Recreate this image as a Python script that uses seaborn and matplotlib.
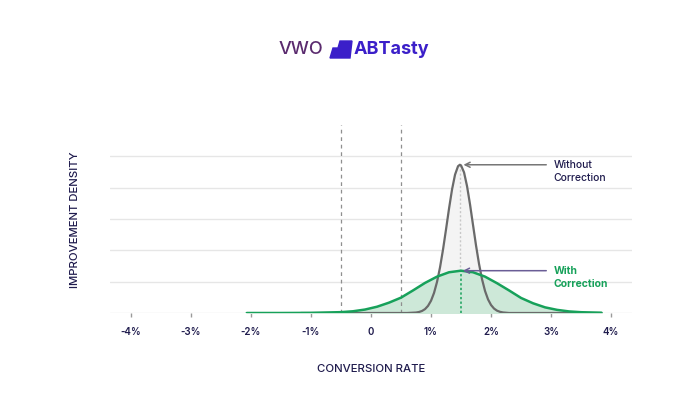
import numpy as np
import matplotlib.pyplot as plt
import matplotlib.patches as mpatches
import seaborn as sns

# data (x in %, y in gridline units)
without_x = [-1.17, 0.6, 0.75, 0.8, 0.85, 0.9, 0.95, 1.0, 1.05, 1.1, 1.15, 1.2, 1.25, 1.3, 1.35,
             1.4, 1.45, 1.48, 1.5, 1.55, 1.6, 1.65, 1.7, 1.75, 1.8, 1.85, 1.9, 1.95, 2.0, 2.05,
             2.1, 2.15, 2.2, 2.3, 3.84]
without_y = [0.0, 0.0, 0.015, 0.032, 0.065, 0.124, 0.227, 0.391, 0.64, 0.992, 1.456, 2.026, 2.669,
             3.332, 3.94, 4.414, 4.684, 4.73, 4.71, 4.486, 4.047, 3.461, 2.803, 2.15, 1.563, 1.076,
             0.702, 0.434, 0.254, 0.141, 0.074, 0.037, 0.017, 0.0, 0.0]

with_x = [-2.07, -1.5, -1.0, -0.5, -0.3, -0.1, 0.1, 0.3, 0.5, 0.7, 0.9, 1.1, 1.3, 1.5, 1.7,
          1.9, 2.1, 2.3, 2.5, 2.7, 2.9, 3.1, 3.3, 3.5, 3.84]
with_y = [0.0, 0.0, 0.004, 0.027, 0.055, 0.11, 0.2, 0.33, 0.49, 0.72, 0.96, 1.16, 1.3, 1.35, 1.3,
          1.16, 0.95, 0.72, 0.48, 0.31, 0.18, 0.10, 0.05, 0.025, 0.008]

bounds = [-0.5, 0.5]
xticks = [-4, -3, -2, -1, 0, 1, 2, 3, 4]
xticklabels = ["-4%", "-3%", "-2%", "-1%", "0", "1%", "2%", "3%", "4%"]

navy = "#1f1b4d"
green = "#17a15a"
grey = "#6a6a6a"

sns.set_style("white")
plt.rcParams['font.family'] = ['Inter', 'DejaVu Sans']

fig = plt.figure(figsize=(7, 4.16), dpi=100)
ax = fig.add_axes([0.157, 0.2476, 0.746, 0.452])

# fills
ax.fill_between(without_x, without_y, color="#f4f4f4", zorder=1)
ax.fill_between(with_x, with_y, color="#cde8d8", zorder=2)

# peak markers
gx = without_x[int(np.argmax(without_y))]
gy = max(without_y)
wx = with_x[int(np.argmax(with_y))]
wy = max(with_y)
ax.plot([gx, gx], [wy, gy], color="#c8c8c8", lw=1, ls=(0, (1.5, 1.5)), zorder=3)
ax.plot([wx, wx], [0, wy], color=green, lw=1.1, ls=(0, (1.5, 1.5)), zorder=3)

# curves
sns.lineplot(x=without_x, y=without_y, color=grey, lw=1.6, ax=ax, zorder=4, sort=False)
sns.lineplot(x=with_x, y=with_y, color=green, lw=1.8, ax=ax, zorder=5, sort=False)

for b in bounds:
    ax.axvline(b, color="#8f8f8f", lw=0.9, ls=(0, (3, 3)), zorder=3)

# annotations
ax.annotate("", xy=(gx + 0.06, gy), xytext=(2.92, gy),
            arrowprops=dict(arrowstyle="->", color="#777777", lw=1.1, mutation_scale=9,
                            shrinkA=0, shrinkB=0), zorder=6)
ax.text(3.04, 4.52, "Without\nCorrection", color=navy, fontsize=7.5, va="center",
        ha="left", linespacing=1.45, fontweight="medium")
ax.annotate("", xy=(wx + 0.03, wy), xytext=(2.92, wy),
            arrowprops=dict(arrowstyle="->", color="#6a5d96", lw=1.1, mutation_scale=9,
                            shrinkA=0, shrinkB=0), zorder=6)
ax.text(3.04, 1.13, "With\nCorrection", color=green, fontsize=7.5, va="center",
        ha="left", linespacing=1.45, fontweight="bold")

ax.set_xlim(-4.35, 4.35)
ax.set_ylim(0, 6)
ax.set_yticks([0, 1, 2, 3, 4, 5])
ax.set_yticklabels([])
ax.yaxis.grid(True, color="#e6e6e6", lw=1)
ax.set_axisbelow(True)
ax.tick_params(axis="y", length=0)
ax.set_xticks(xticks)
ax.set_xticklabels(xticklabels, color=navy, fontsize=7, fontweight="semibold")
ax.tick_params(axis="x", length=3, color="#9a9a9a", width=1, pad=7, bottom=True)
for s in ax.spines.values():
    s.set_visible(False)

fig.text(75 / 700, 1 - 220 / 416, "IMPROVEMENT DENSITY", rotation=90, color=navy,
         fontsize=8.2, ha="center", va="center", fontweight="medium")
fig.text(371 / 700, 1 - 369 / 416, "CONVERSION RATE", color=navy,
         fontsize=8.2, ha="center", va="center", fontweight="medium")

# logo
fig.text(279 / 700, 1 - 50 / 416, "VWO", color="#5a2a6e", fontsize=13, ha="left",
         va="center", fontweight="medium")
logo = mpatches.Polygon([[330 / 700, 1 - 58 / 416], [333 / 700, 1 - 48 / 416],
                         [338 / 700, 1 - 48 / 416], [340 / 700, 1 - 41 / 416],
                         [352 / 700, 1 - 41 / 416], [350 / 700, 1 - 58 / 416]],
                        closed=True, transform=fig.transFigure, color="#3b1fc9")
fig.patches.append(logo)
fig.text(354 / 700, 1 - 50 / 416, "ABTasty", color="#3b1fc9", fontsize=13, ha="left",
         va="center", fontweight="bold")

fig.savefig("out.png", dpi=100)
